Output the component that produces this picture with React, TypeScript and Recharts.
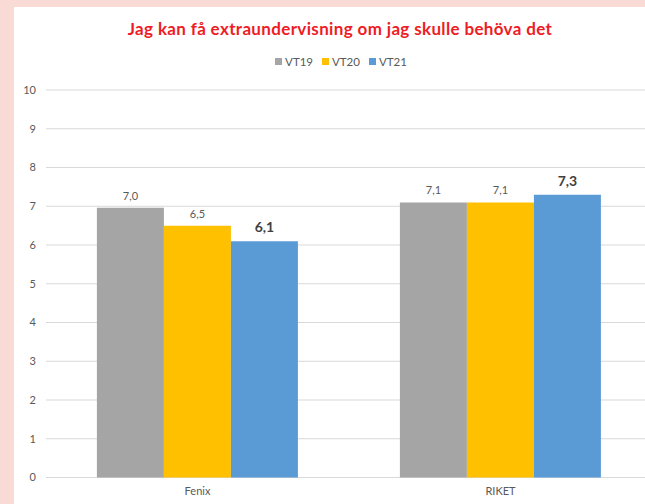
import React from 'react';
import { BarChart, Bar, XAxis, YAxis, CartesianGrid, LabelList } from 'recharts';

const categories = ['Fenix', 'RIKET'];
const vt19 = [6.96, 7.1];
const vt20 = [6.5, 7.1];
const vt21 = [6.1, 7.3];
const seriesNames = ['VT19', 'VT20', 'VT21'];
const seriesColors = ['#a5a5a5', '#ffc000', '#5b9bd5'];
const yTicks = [0, 1, 2, 3, 4, 5, 6, 7, 8, 9, 10];
const title = 'Jag kan få extraundervisning om jag skulle behöva det';

const data = categories.map((c, i) => ({ name: c, VT19: vt19[i], VT20: vt20[i], VT21: vt21[i] }));

const fmt = (v: any) => Number(v).toFixed(1).replace('.', ',');
const FONT = 'Lato, "Open Sans", sans-serif';

export default function App() {
  return (
    <div style={{ position: 'absolute', left: 0, top: 0, width: 645, height: 504, background: '#f9dad5', overflow: 'hidden', fontFamily: FONT }}>
      <div style={{ position: 'absolute', left: 14, top: 7, width: 700, height: 520, background: '#ffffff' }} />
      <div style={{ position: 'absolute', left: 0, top: 18, width: 680, textAlign: 'center', color: '#ee1c25', fontWeight: 700, fontSize: 17, letterSpacing: 0.35, fontFamily: FONT, whiteSpace: 'nowrap' }}>
        {title}
      </div>
      <div style={{ position: 'absolute', left: 0, top: 55, width: 682, display: 'flex', justifyContent: 'center', fontSize: 11.5, color: '#595959', fontFamily: FONT }}>
        {seriesNames.map((s, i) => (
          <span key={s} style={{ display: 'inline-flex', alignItems: 'center', marginRight: i < 2 ? 9 : 0 }}>
            <span style={{ display: 'inline-block', width: 7, height: 7, background: seriesColors[i], marginRight: 3 }} />
            {s}
          </span>
        ))}
      </div>
      <div style={{ position: 'absolute', left: 0, top: 0 }}>
        <BarChart width={660} height={504} data={data} margin={{ top: 90, right: 8, bottom: 0, left: 0 }} barCategoryGap="16.8%" barGap={0}>
          <CartesianGrid horizontal vertical={false} stroke="#d9d9d9" strokeWidth={1} />
          <XAxis dataKey="name" axisLine={false} tickLine={false} height={26.5} tickMargin={4} tick={{ fill: '#595959', fontSize: 11, fontFamily: FONT }} />
          <YAxis domain={[0, 10]} ticks={yTicks} width={46} axisLine={false} tickLine={false} tickMargin={4} interval={0} tick={{ fill: '#595959', fontSize: 11, fontFamily: FONT }} />
          <Bar dataKey="VT19" fill={seriesColors[0]} isAnimationActive={false}>
            <LabelList dataKey="VT19" position="top" offset={8} formatter={fmt} style={{ fill: '#595959', fontSize: 11, fontFamily: FONT }} />
          </Bar>
          <Bar dataKey="VT20" fill={seriesColors[1]} isAnimationActive={false}>
            <LabelList dataKey="VT20" position="top" offset={8} formatter={fmt} style={{ fill: '#595959', fontSize: 11, fontFamily: FONT }} />
          </Bar>
          <Bar dataKey="VT21" fill={seriesColors[2]} isAnimationActive={false}>
            <LabelList dataKey="VT21" position="top" offset={9} formatter={fmt} style={{ fill: '#404040', fontSize: 14, fontWeight: 700, fontFamily: FONT }} />
          </Bar>
        </BarChart>
      </div>
    </div>
  );
}
